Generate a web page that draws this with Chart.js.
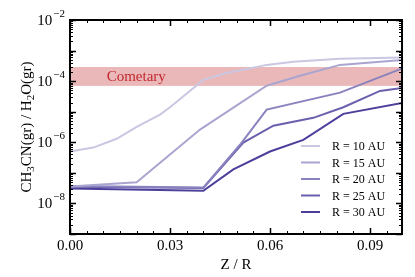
<!DOCTYPE html>
<html>
<head>
<meta charset="utf-8">
<script src="https://cdn.jsdelivr.net/npm/chart.js@4"></script>
<style>
  html, body { margin: 0; padding: 0; background: #fff; }
  #wrap { width: 415px; height: 277px; }
</style>
</head>
<body>
<div id="wrap"><canvas id="chart" width="415" height="277"></canvas></div>
<script>
// radii and colours
var labels = ['R = 10 AU', 'R = 15 AU', 'R = 20 AU', 'R = 25 AU', 'R = 30 AU'];
var colors = ['#c9c7e2', '#a9a5d0', '#8882bf', '#6a61ae', '#4c3f9c'];

// Z / R sampling of each curve
var z10 = [0, 0.007, 0.014, 0.02, 0.027, 0.03, 0.04, 0.047, 0.059, 0.067, 0.081, 0.1];
var z15 = [0, 0.02, 0.039, 0.059, 0.069, 0.081, 0.1];
var z20 = [0, 0.04, 0.051, 0.059, 0.081, 0.1];
var z25 = [0, 0.04, 0.052, 0.061, 0.073, 0.082, 0.093, 0.1];
var z30 = [0, 0.04, 0.049, 0.06, 0.07, 0.082, 0.1];

// CH3CN(gr)/H2O(gr)
var r10 = [5.0e-7, 6.7e-7, 1.3e-6, 3.2e-6, 8.0e-6, 1.4e-5, 1.1e-4, 1.85e-4, 3.4e-4, 4.3e-4, 5.4e-4, 6.0e-4];
var r15 = [3.6e-8, 4.9e-8, 2.6e-6, 7.1e-5, 1.5e-4, 3.4e-4, 5.0e-4];
var r20 = [3.7e-8, 3.3e-8, 8.3e-7, 1.17e-5, 4.2e-5, 2.7e-4];
var r25 = [3.5e-8, 3.2e-8, 9.8e-7, 3.5e-6, 6.3e-6, 1.4e-5, 4.8e-5, 6.0e-5];
var r30 = [3.1e-8, 2.6e-8, 1.3e-7, 5.0e-7, 1.2e-6, 8.5e-6, 1.96e-5];

// cometary range
var cometLow = 7e-5, cometHigh = 2.9e-4;

var xTicks = [0, 0.03, 0.06, 0.09];
var xTickLabels = ['0.00', '0.03', '0.06', '0.09'];
var yTickExp = [-2, -4, -6, -8];

var zs = [z10, z15, z20, z25, z30];
var rs = [r10, r15, r20, r25, r30];

function pts(z, r) {
    return z.map(function (v, i) { return {x: v, y: r[i]}; });
}

var datasets = labels.map(function (l, i) {
    return {
        label: l,
        data: pts(zs[i], rs[i]),
        borderColor: colors[i],
        backgroundColor: colors[i],
        borderWidth: 2,
        pointRadius: 0,
        showLine: true,
        tension: 0
    };
});

var serif = '"Liberation Serif", "DejaVu Serif", serif';

var band = {
    id: 'band',
    beforeDatasetsDraw: function (chart) {
        var c = chart.ctx, a = chart.chartArea, y = chart.scales.y;
        var t = y.getPixelForValue(cometHigh), b = y.getPixelForValue(cometLow);
        c.save();
        c.fillStyle = '#eab8b9';
        c.fillRect(a.left, t, a.right - a.left, b - t);
        c.fillStyle = '#c0282e';
        c.font = '15px ' + serif;
        c.textBaseline = 'middle';
        c.fillText('Cometary', chart.scales.x.getPixelForValue(0.011), (t + b) / 2 + 1);
        c.restore();
    }
};

var frame = {
    id: 'frame',
    afterDraw: function (chart) {
        var c = chart.ctx, a = chart.chartArea, x = chart.scales.x, y = chart.scales.y;
        c.save();
        c.strokeStyle = '#000';
        c.fillStyle = '#000';

        // x ticks
        c.lineWidth = 1;
        for (var i = 0; i <= 20; i++) {
            var v = i * 0.005;
            var px = Math.round(x.getPixelForValue(v)) + 0.5;
            if (px > a.right) continue;
            var len = (i % 6 === 0) ? 6 : 3;
            c.lineWidth = (i % 6 === 0) ? 1.5 : 1;
            c.beginPath();
            c.moveTo(px, a.bottom); c.lineTo(px, a.bottom - len);
            c.moveTo(px, a.top); c.lineTo(px, a.top + len);
            c.stroke();
        }
        // y ticks
        for (var e = -9; e <= -2; e++) {
            for (var m = 1; m <= 9; m++) {
                if (e === -2 && m > 1) break;
                var py = Math.round(y.getPixelForValue(m * Math.pow(10, e))) + 0.5;
                var l2 = m === 1 ? 6 : 3;
                c.lineWidth = m === 1 ? 1.5 : 1;
                c.beginPath();
                c.moveTo(a.left, py); c.lineTo(a.left + l2, py);
                c.moveTo(a.right, py); c.lineTo(a.right - l2, py);
                c.stroke();
            }
        }
        // frame
        c.lineWidth = 2;
        c.strokeRect(a.left, a.top, a.right - a.left, a.bottom - a.top);

        // x tick labels
        c.font = '15px ' + serif;
        c.textAlign = 'center';
        c.textBaseline = 'middle';
        xTicks.forEach(function (v, i) {
            c.fillText(xTickLabels[i], x.getPixelForValue(v), a.bottom + 12);
        });
        c.font = '15px ' + serif;
        c.fillText('Z / R', (a.left + a.right) / 2, a.bottom + 31);

        // y tick labels
        yTickExp.forEach(function (ex) {
            var py = y.getPixelForValue(Math.pow(10, ex));
            var sup = '\u2212' + (-ex);
            c.font = '11px ' + serif;
            var ws = c.measureText(sup).width;
            c.textAlign = 'right';
            c.textBaseline = 'middle';
            c.fillText(sup, a.left - 5, py - 6);
            c.font = '15px ' + serif;
            c.fillText('10', a.left - 5 - ws - 1, py + 1);
        });

        // y title with subscripts
        var parts = [['CH', 0], ['3', 1], ['CN(gr) / H', 0], ['2', 1], ['O(gr)', 0]];
        var big = '15px ' + serif, small = '11px ' + serif;
        var total = 0;
        parts.forEach(function (p) { c.font = p[1] ? small : big; total += c.measureText(p[0]).width; });
        c.translate(27, (a.top + a.bottom) / 2);
        c.rotate(-Math.PI / 2);
        c.textAlign = 'left';
        c.textBaseline = 'middle';
        var cx = -total / 2;
        parts.forEach(function (p) {
            c.font = p[1] ? small : big;
            c.fillText(p[0], cx, p[1] ? 4 : 0);
            cx += c.measureText(p[0]).width;
        });
        c.restore();

        // legend
        c.save();
        c.font = '12px ' + serif;
        c.textBaseline = 'middle';
        chart.data.datasets.forEach(function (d, i) {
            var ly = 146 + i * 16.5;
            c.strokeStyle = d.borderColor;
            c.lineWidth = 2;
            c.beginPath();
            c.moveTo(301, ly); c.lineTo(320, ly);
            c.stroke();
            c.fillStyle = '#000';
            c.fillText(d.label, 332, ly + 1);
        });
        c.restore();
    }
};

var chart = new Chart(document.getElementById('chart').getContext('2d'), {
    type: 'scatter',
    data: { datasets: datasets },
    options: {
        responsive: false,
        animation: false,
        layout: { padding: { left: 70, right: 13, top: 20, bottom: 43 } },
        plugins: { legend: { display: false }, tooltip: { enabled: false } },
        scales: {
            x: { type: 'linear', min: 0, max: 0.0996, display: false },
            y: { type: 'logarithmic', min: 1e-9, max: 1e-2, display: false }
        }
    },
    plugins: [band, frame]
});
</script>
</body>
</html>
